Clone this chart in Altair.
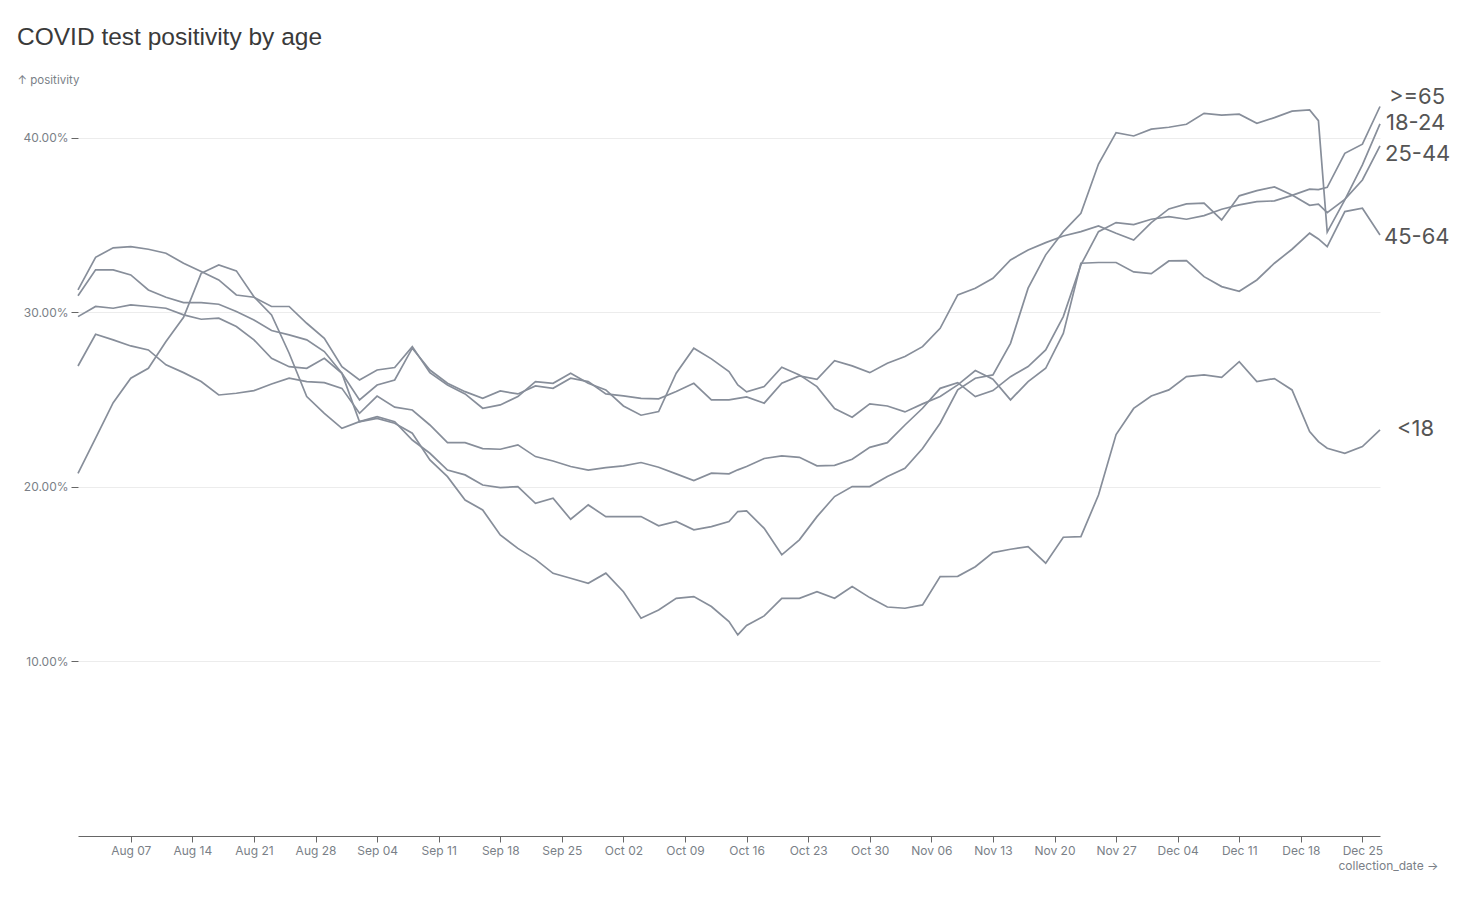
import altair as alt
import pandas as pd

# ---------------- data (values in percent) ----------------
start_date = "2020-08-01"
day_offsets = sorted(set(range(0, 149, 2)) | {75, 141})

s_45_64 = [31.29, 33.16, 33.70, 33.77, 33.62, 33.39, 32.82, 32.34, 31.86, 31.0, 30.87, 30.34, 30.34, 29.38, 28.52, 26.89,
           26.13, 26.70, 26.84, 28.04, 26.55, 25.84, 25.33, 24.51, 24.7, 25.18, 26.04, 25.94, 26.51, 25.94,
           25.56, 24.64, 24.11, 24.32, 26.52, 27.95, 27.34, 26.61, 25.85, 25.45, 25.75, 26.86, 26.42, 25.75, 24.49, 24.0,
           24.76, 24.64, 24.3, 24.76, 25.18, 25.85, 26.67, 26.17, 24.99, 26.04, 26.8, 28.8, 32.82, 32.86, 32.86,
           32.32, 32.22, 32.95, 32.97, 32.05, 31.48, 31.21, 31.86, 32.82, 33.62, 34.54, 34.21, 33.77, 35.78, 35.97, 34.44]

s_25_44 = [30.95, 32.44, 32.44, 32.15, 31.29, 30.87, 30.56, 30.56, 30.47, 30.05, 29.57, 28.96, 28.71, 28.43, 27.76, 26.51,
           24.99, 25.84, 26.13, 27.95, 26.70, 25.94, 25.46, 25.08, 25.5, 25.33, 25.79, 25.65, 26.23, 26.04,
           25.33, 25.22, 25.08, 25.05, 25.47, 25.94, 24.99, 24.99, 25.08, 25.16, 24.8, 25.94, 26.36, 26.17, 27.24, 26.94,
           26.55, 27.09, 27.47, 28.04, 29.09, 31.0, 31.39, 31.96, 33.01, 33.58, 34.0, 34.38, 34.63, 34.96, 34.54,
           34.15, 35.15, 35.93, 36.22, 36.26, 35.3, 36.68, 36.98, 37.19, 36.73, 36.14, 36.2, 35.72, 36.48, 37.59, 39.54]

s_65 = [26.93, 28.75, 28.43, 28.08, 27.85, 27.0, 26.55, 26.04, 25.27, 25.37, 25.52, 25.9, 26.23, 26.04, 25.98, 25.65,
        24.22, 25.21, 24.57, 24.41, 23.55, 22.54, 22.54, 22.2, 22.16, 22.41, 21.74, 21.49, 21.17, 20.97,
        21.11, 21.21, 21.4, 21.13, 20.75, 20.37, 20.79, 20.75, 20.98, 21.17, 21.63, 21.78, 21.7, 21.21, 21.24, 21.59,
        22.27, 22.54, 23.55, 24.51, 25.65, 25.98, 25.18, 25.52, 26.32, 26.9, 27.85, 29.76, 32.72, 34.63, 35.15,
        35.03, 35.34, 35.49, 35.34, 35.55, 35.91, 36.16, 36.35, 36.39, 36.71, 37.06, 37.04, 37.17, 39.12, 39.64, 41.8]

s_18_24 = [20.78, 22.8, 24.83, 26.23, 26.8, 28.33, 29.72, 32.24, 32.72, 32.38, 30.9, 29.86, 27.66, 25.18, 24.22, 23.36,
           23.74, 24.03, 23.74, 22.69, 21.93, 20.97, 20.69, 20.11, 19.96, 20.02, 19.06, 19.35, 18.15, 18.97,
           18.3, 18.3, 18.3, 17.77, 18.02, 17.54, 17.73, 18.02, 18.59, 18.63, 17.63, 16.11, 16.97, 18.3, 19.45, 20.02,
           20.02, 20.6, 21.07, 22.2, 23.65, 25.56, 26.23, 26.42, 28.23, 31.39, 33.3, 34.63, 35.68, 38.5, 40.3,
           40.11, 40.5, 40.61, 40.78, 41.41, 41.3, 41.36, 40.84, 41.16, 41.53, 41.6, 40.99, 34.6, 36.45, 38.45, 40.8]

s_lt18 = [29.76, 30.34, 30.24, 30.43, 30.34, 30.24, 29.86, 29.61, 29.67, 29.19, 28.43, 27.37, 26.89, 26.8, 27.37, 26.51,
          23.74, 23.93, 23.65, 23.08, 21.55, 20.59, 19.25, 18.68, 17.25, 16.48, 15.85, 15.05, 14.77, 14.48,
          15.06, 14.0, 12.48, 12.95, 13.62, 13.72, 13.15, 12.29, 11.52, 12.06, 12.61, 13.62, 13.62, 14.0, 13.62, 14.29,
          13.66, 13.12, 13.05, 13.24, 14.86, 14.88, 15.43, 16.24, 16.43, 16.58, 15.63, 17.12, 17.15, 19.54, 23.0,
          24.5, 25.21, 25.56, 26.32, 26.42, 26.28, 27.18, 26.04, 26.21, 25.56, 23.17, 22.6, 22.22, 21.93, 22.31, 23.27]

series = {">=65": s_65, "18-24": s_18_24, "25-44": s_25_44, "45-64": s_45_64, "<18": s_lt18}

y_ticks = [0.1, 0.2, 0.3, 0.4]
x_tick_dates = ["2020-08-07", "2020-08-14", "2020-08-21", "2020-08-28", "2020-09-04", "2020-09-11",
                "2020-09-18", "2020-09-25", "2020-10-02", "2020-10-09", "2020-10-16", "2020-10-23",
                "2020-10-30", "2020-11-06", "2020-11-13", "2020-11-20", "2020-11-27", "2020-12-04",
                "2020-12-11", "2020-12-18", "2020-12-25"]
x_domain = ["2020-08-01", "2020-12-27"]

# ---------------- build tables ----------------
def to_date(offset):
    return (pd.Timestamp(start_date) + pd.Timedelta(days=offset)).strftime("%Y-%m-%d")

rows = []
for name, vals in series.items():
    for d, v in zip(day_offsets, vals):
        rows.append({"age": name, "collection_date": to_date(d), "positivity": v / 100})
df = pd.DataFrame(rows)
label_df = pd.DataFrame([{"age": n, "collection_date": to_date(day_offsets[-1]), "positivity": v[-1] / 100}
                         for n, v in series.items()])

def dt(s):
    y, m, d = (int(p) for p in s.split("-"))
    return alt.DateTime(year=y, month=m, date=d, utc=True)

FONT = "Inter"
GREY_TXT = "#7a7f87"
LINE = "#878e9a"

x_enc = alt.X(
    "collection_date:T",
    scale=alt.Scale(type="utc", domain=[dt(x_domain[0]), dt(x_domain[1])]),
    axis=alt.Axis(values=[dt(s) for s in x_tick_dates],
                  labelExpr="utcFormat(datum.value, '%b %d')",
                  title="collection_date →", titleX=1360, titleY=29, titleAlign="right",
                  titleBaseline="middle", titleFontWeight="normal", titleFontSize=12,
                  titleColor=GREY_TXT, titleFont=FONT,
                  labelColor=GREY_TXT, labelFontSize=12, labelFont=FONT, labelPadding=3,
                  tickSize=6, tickColor="#666", domainColor="#666", grid=False),
)
y_enc = alt.Y(
    "positivity:Q",
    scale=alt.Scale(domain=[0, 0.42], nice=False, zero=True),
    axis=alt.Axis(values=y_ticks, format=".2%", title="↑ positivity", titleAngle=0,
                  titleAlign="left", titleBaseline="middle", titleX=-61, titleY=-23,
                  titleFontWeight="normal", titleFontSize=11.5, titleColor=GREY_TXT, titleFont=FONT,
                  labelColor=GREY_TXT, labelFontSize=12, labelFont=FONT, labelPadding=3,
                  domain=False, tickSize=7, tickColor="#666",
                  grid=True, gridColor="#ececec", gridWidth=1),
)

lines = alt.Chart(df).mark_line(strokeWidth=1.7, color=LINE).encode(
    x=x_enc, y=y_enc, detail="age:N"
)

label_nudge = {">=65": (9, -9), "18-24": (6, -1), "25-44": (5, 8), "45-64": (4, 2), "<18": (17, -1)}
label_layers = []
for name, (ddx, ddy) in label_nudge.items():
    label_layers.append(
        alt.Chart(label_df).transform_filter(alt.datum.age == name).mark_text(
            align="left", baseline="middle", dx=ddx, dy=ddy, fontSize=22, font=FONT, color="#555"
        ).encode(x=x_enc, y=y_enc, text="age:N")
    )

chart = alt.layer(lines, *label_layers).properties(
    width=1302, height=733,
    title=alt.Title("COVID test positivity by age", anchor="start", frame="group", dx=-61,
                    fontSize=24.5, font="Liberation Sans", fontWeight="normal", color="#3a3a3a", offset=24),
    autosize=alt.AutoSizeParams(type="none"),
    padding={"left": 70, "top": 95, "right": 86, "bottom": 60},
).configure_view(stroke=None)

chart.save("out.html", embed_options={"renderer": "svg", "actions": False})
